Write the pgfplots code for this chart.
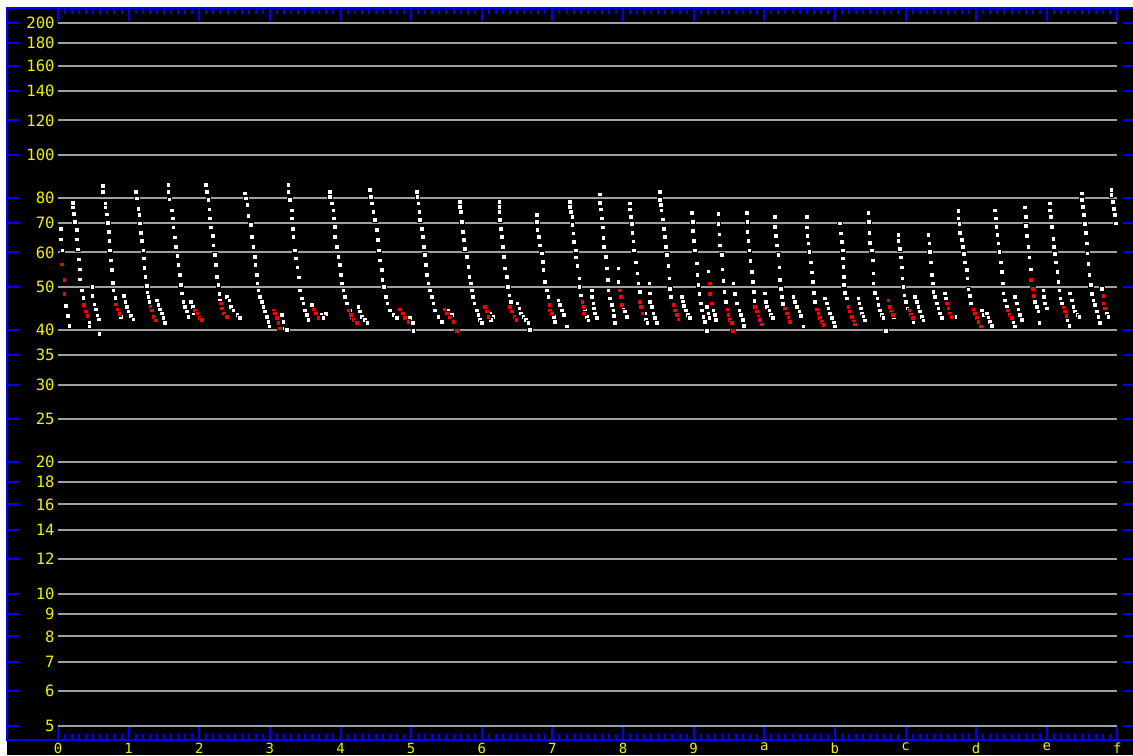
\documentclass[border=0pt]{standalone}
\usepackage{fontspec}
\setmonofont{DejaVu Sans Mono}
\usepackage{pgfplots}
\pgfplotsset{compat=1.18}
\definecolor{bluec}{RGB}{0,0,255}
\definecolor{yellowc}{RGB}{240,240,0}
\definecolor{gridc}{RGB}{160,160,160}
\definecolor{redc}{RGB}{255,0,0}
\begin{document}
\begin{tikzpicture}
\fill[white] (-3.5pt,-7.5pt) rectangle (563pt,370pt);
\fill[black] (0,-7.5pt) rectangle (566pt,366pt);
\begin{axis}[
  at={(0,0)}, anchor=south west,
  scale only axis, width=564.5pt, height=366pt,
  xmin=-0.722, xmax=15.263,
  ymode=log, ymin=4.646, ymax=216.4,
  axis line style={draw=bluec, line width=1pt},
  tick style={draw=bluec, line width=1pt},
  tick align=inside,
  major tick length=6.75pt, minor tick length=3pt,
  xtick={0,1,2,3,4,5,6,7,8,9,10,11,12,13,14,15},
  xticklabels={0,1,2,3,4,5,6,7,8,9,a,b,c,d,e,f},
  minor x tick num=9,
  ytick={5,6,7,8,9,10,12,14,16,18,20,25,30,35,40,50,60,70,80,100,120,140,160,180,200},
  yticklabels={5,6,7,8,9,10,12,14,16,18,20,25,30,35,40,50,60,70,80,100,120,140,160,180,200},
  yminorticks=false,
  yticklabel pos=left,
  /pgf/number format/assume math mode=true,
  tick label style={text=yellowc},
  yticklabel style={anchor=east, inner sep=0pt, xshift=24pt, font=\fontsize{7.8}{8}\selectfont\ttfamily},
  xticklabel style={anchor=north, inner sep=0pt, yshift=-1.3pt, font=\fontsize{7}{7}\selectfont\ttfamily},
]
\pgfplotsinvokeforeach{5,6,7,8,9,10,12,14,16,18,20,25,30,35,40,50,60,70,80,100,120,140,160,180,200}{
  \addplot[gridc, line width=1pt, forget plot] coordinates {(0,#1) (15,#1)};
}
\addplot[only marks, mark=square*, mark size=1.15pt, mark options={draw=none, fill=white}] coordinates {
(0.042,67.9)(0.042,64.2)(0.061,60.7)(0.113,45.3)(0.142,43.0)(0.160,40.8)
(0.208,77.8)(0.208,76.0)(0.227,73.4)(0.241,70.5)(0.264,67.5)(0.264,64.2)(0.283,61.0)(0.293,57.9)(0.311,54.9)(0.311,52.1)(0.340,49.2)(0.359,47.3)(0.444,41.6)(0.444,40.7)
(0.486,50.1)(0.486,47.7)(0.514,45.7)(0.538,44.5)(0.557,43.0)(0.576,42.2)(0.585,39.1)
(0.632,85.0)(0.632,82.5)(0.670,77.6)(0.670,76.0)(0.689,73.2)(0.703,70.1)(0.717,66.9)(0.727,63.8)(0.736,60.7)(0.750,57.6)(0.765,54.7)(0.774,51.2)(0.783,49.2)(0.812,47.3)(0.887,42.8)
(0.934,47.7)(0.953,46.3)(0.972,45.1)(0.996,44.0)(1.029,43.0)(1.067,42.2)
(1.104,82.5)(1.114,79.7)(1.137,75.5)(1.151,73.0)(1.161,69.9)(1.170,66.5)(1.184,63.8)(1.208,60.7)(1.218,58.1)(1.222,55.4)(1.236,52.8)(1.255,50.3)(1.265,48.6)(1.279,47.5)(1.295,46.3)
(1.397,46.7)(1.420,45.5)(1.444,44.5)(1.468,43.6)(1.491,42.5)(1.515,41.5)
(1.562,85.4)(1.562,82.5)(1.576,79.2)(1.609,74.9)(1.623,71.7)(1.633,68.4)(1.656,64.9)(1.671,61.8)(1.689,58.9)(1.704,56.2)(1.727,53.3)(1.741,50.6)(1.751,48.4)(1.774,46.3)(1.798,45.1)(1.822,44.0)(1.845,42.8)
(1.878,46.3)(1.907,45.1)(1.925,43.6)
(2.095,85.4)(2.105,82.5)(2.128,79.0)(2.142,75.2)(2.152,71.7)(2.161,68.4)(2.190,65.4)(2.199,62.3)(2.223,59.2)(2.237,56.2)(2.246,52.8)(2.270,50.6)(2.284,48.2)(2.294,46.7)
(2.388,47.5)(2.426,46.7)(2.445,45.1)(2.483,44.3)(2.539,43.2)(2.577,42.5)
(2.647,81.8)(2.657,79.7)(2.680,76.9)(2.695,72.6)(2.728,69.3)(2.742,65.1)(2.766,61.8)(2.784,58.7)(2.794,56.2)(2.813,53.3)(2.822,51.0)(2.836,49.2)(2.860,47.5)(2.884,46.3)(2.907,45.1)(2.931,44.0)(2.954,42.8)(2.978,41.7)(2.992,40.7)
(3.167,43.2)(3.190,41.7)(3.214,40.3)(3.237,40.0)
(3.261,85.4)(3.261,82.5)(3.285,79.0)(3.308,74.9)(3.308,71.7)(3.322,68.0)(3.332,65.1)(3.355,60.7)(3.369,58.1)(3.388,55.5)(3.412,52.6)(3.426,49.2)(3.450,47.1)(3.473,45.9)(3.497,44.3)(3.520,43.2)(3.544,42.1)
(3.591,45.5)(3.733,43.2)(3.795,43.4)(3.757,42.5)
(3.851,82.5)(3.851,80.4)(3.874,77.6)(3.898,74.9)(3.907,71.7)(3.922,68.7)(3.922,65.1)(3.945,61.8)(3.969,58.7)(3.993,56.2)(4.002,53.3)(4.016,51.0)(4.040,49.2)(4.064,47.5)(4.087,45.9)(4.135,44.3)(4.158,42.8)(4.253,45.1)(4.276,44.0)(4.300,42.8)(4.347,42.1)(4.380,41.4)
(4.417,83.2)(4.427,80.4)(4.441,77.6)(4.464,74.3)(4.488,71.1)(4.512,67.5)(4.526,64.0)(4.545,60.7)(4.559,57.6)(4.583,54.7)(4.592,51.9)(4.616,50.1)(4.644,47.5)(4.663,45.9)(4.701,44.3)(4.748,43.2)(4.795,42.5)(4.984,42.5)(5.021,41.4)(5.031,39.7)
(5.078,82.5)(5.087,80.4)(5.102,77.6)(5.116,74.3)(5.125,71.1)(5.149,68.0)(5.163,65.1)(5.182,61.8)(5.196,59.2)(5.210,56.2)(5.220,53.3)(5.243,51.0)(5.267,49.2)(5.290,47.5)(5.314,45.9)(5.338,44.3)(5.385,42.8)(5.432,41.7)(5.526,44.3)(5.574,43.2)
(5.691,78.3)(5.691,76.2)(5.701,74.3)(5.715,70.5)(5.729,66.9)(5.748,64.0)(5.762,61.2)(5.786,58.7)(5.809,55.7)(5.823,52.8)(5.842,51.0)(5.857,49.2)(5.871,47.5)(5.894,45.9)(5.927,44.3)(5.951,43.2)(5.974,42.1)(5.998,41.4)(6.116,43.6)(6.163,42.8)(6.126,42.1)
(6.248,78.3)(6.248,76.2)(6.248,74.3)(6.257,71.1)(6.267,68.0)(6.281,65.1)(6.295,61.8)(6.314,58.7)(6.328,55.2)(6.352,52.8)(6.366,50.1)(6.390,47.9)(6.413,46.3)(6.503,45.9)(6.531,44.7)(6.550,43.6)(6.588,42.8)(6.626,42.1)(6.659,41.4)(6.682,40.0)
(6.777,73.0)(6.777,70.5)(6.786,67.5)(6.805,65.1)(6.824,62.3)(6.848,59.7)(6.862,57.1)(6.871,54.7)(6.895,51.4)(6.919,49.2)(6.942,47.5)(7.022,42.8)(7.036,41.7)(7.084,46.7)(7.107,45.5)(7.131,44.3)(7.164,43.2)(7.202,40.7)
(7.249,78.3)(7.249,76.2)(7.263,74.3)(7.282,72.4)(7.282,69.3)(7.296,66.3)(7.306,63.4)(7.329,60.7)(7.334,58.5)(7.353,55.9)(7.381,52.4)(7.381,50.1)(7.400,47.9)(7.461,44.3)(7.485,42.8)(7.508,42.0)(7.556,49.2)(7.556,47.5)(7.580,45.9)(7.589,44.7)(7.603,43.6)(7.627,42.5)
(7.673,81.4)(7.673,77.8)(7.683,75.2)(7.702,71.7)(7.711,68.4)(7.720,64.7)(7.730,61.8)(7.758,58.7)(7.768,55.2)(7.782,51.9)(7.791,49.2)(7.815,47.1)(7.839,45.5)(7.862,44.3)(7.872,43.0)(7.886,41.4)(7.933,55.2)(7.933,51.4)(8.004,45.1)(8.027,44.0)(8.051,42.8)
(8.098,77.6)(8.098,75.2)(8.108,72.4)(8.122,69.6)(8.131,66.5)(8.145,63.6)(8.155,60.7)(8.183,56.9)(8.202,53.8)(8.216,51.0)(8.240,48.8)(8.310,43.6)(8.325,42.2)(8.343,41.4)(8.372,51.0)(8.381,48.4)(8.381,46.3)(8.405,45.1)(8.428,43.6)(8.452,42.5)(8.476,41.4)
(8.523,82.5)(8.523,79.0)(8.537,76.9)(8.546,74.9)(8.561,71.3)(8.580,68.0)(8.594,65.1)(8.608,61.8)(8.617,59.2)(8.641,55.9)(8.655,52.4)(8.665,49.6)(8.679,47.5)(8.830,47.5)(8.844,46.3)(8.863,45.3)(8.891,44.3)(8.915,43.2)(8.948,42.5)
(8.971,73.9)(8.985,70.5)(8.985,67.2)(9.004,63.8)(9.018,60.7)(9.042,56.7)(9.052,53.3)(9.066,50.6)(9.080,48.2)(9.099,45.9)(9.113,44.3)(9.137,42.8)(9.160,41.7)(9.207,54.3)(9.184,39.7)(9.184,45.1)(9.207,43.6)(9.222,42.5)(9.278,44.3)(9.302,43.2)(9.316,42.1)
(9.349,73.4)(9.349,69.6)(9.363,66.0)(9.373,62.3)(9.396,59.2)(9.406,54.9)(9.420,51.7)(9.434,48.8)(9.453,46.3)(9.561,51.0)(9.585,48.2)(9.608,45.9)(9.646,44.3)(9.665,43.2)(9.694,42.1)(9.712,40.8)
(9.750,73.9)(9.759,70.5)(9.759,66.9)(9.773,63.8)(9.788,60.7)(9.806,57.4)(9.821,54.2)(9.835,51.4)(9.854,48.8)(9.862,46.5)(10.010,48.4)(10.024,46.3)(10.033,45.1)(10.071,44.3)(10.090,43.2)(10.118,42.5)
(10.151,72.4)(10.151,68.7)(10.165,65.4)(10.175,62.3)(10.198,59.2)(10.213,55.5)(10.222,51.9)(10.236,49.6)(10.246,47.5)(10.260,45.8)(10.411,47.5)(10.435,46.3)(10.458,45.1)(10.496,44.0)(10.515,43.0)(10.552,40.7)
(10.599,72.4)(10.599,68.4)(10.609,65.4)(10.623,62.9)(10.637,60.2)(10.656,56.9)(10.670,54.0)(10.684,51.4)(10.703,48.6)(10.717,46.3)(10.859,47.1)(10.883,45.9)(10.906,44.7)(10.930,43.6)(10.954,42.5)(10.987,41.4)(11.001,40.7)
(11.071,69.9)(11.085,66.3)(11.095,63.4)(11.109,60.7)(11.109,58.1)(11.119,55.7)(11.128,52.8)(11.128,50.6)(11.142,48.6)(11.166,47.1)(11.331,47.1)(11.345,45.9)(11.364,44.7)(11.378,43.6)(11.402,42.8)(11.426,42.0)
(11.472,73.9)(11.482,70.5)(11.487,66.5)(11.496,63.1)(11.520,60.7)(11.534,57.6)(11.543,53.8)(11.543,51.0)(11.567,48.6)(11.600,47.1)(11.614,45.5)(11.638,44.3)(11.661,43.2)(11.685,42.5)(11.723,39.7)(11.836,42.8)
(11.897,65.7)(11.897,63.8)(11.921,61.1)(11.930,58.5)(11.944,55.5)(11.954,52.4)(11.968,50.1)(11.982,47.9)(12.001,46.3)(12.025,44.7)(12.109,41.7)(12.133,47.5)(12.157,46.3)(12.180,45.1)(12.204,44.0)(12.228,42.8)(12.251,42.0)
(12.322,65.7)(12.336,62.9)(12.345,60.2)(12.355,56.9)(12.369,53.3)(12.383,51.0)(12.393,48.8)(12.416,47.5)(12.440,45.9)(12.464,44.7)(12.487,43.6)(12.511,42.5)(12.558,48.4)(12.572,47.1)(12.700,42.8)
(12.747,74.6)(12.747,71.7)(12.761,69.6)(12.771,66.5)(12.794,64.0)(12.808,61.8)(12.827,59.5)(12.841,56.9)(12.865,54.7)(12.874,52.4)(12.889,49.4)(12.912,47.7)(12.926,45.9)(13.077,44.3)(13.101,43.2)(13.148,43.6)(13.172,42.5)(13.195,41.7)(13.219,40.8)
(13.266,74.9)(13.275,71.7)(13.289,68.7)(13.299,65.7)(13.313,62.9)(13.327,60.2)(13.346,56.9)(13.360,54.2)(13.374,51.0)(13.384,48.4)(13.408,46.7)(13.431,45.1)(13.526,41.4)(13.549,40.7)(13.549,47.5)(13.573,45.9)(13.597,44.5)(13.620,43.2)(13.644,42.1)
(13.690,76.0)(13.700,72.4)(13.705,69.0)(13.714,65.4)(13.738,61.8)(13.752,58.5)(13.771,54.9)(13.832,46.3)(13.856,45.1)(13.880,44.0)(13.894,41.4)(13.950,49.2)(13.960,47.5)(13.974,45.9)(13.998,44.7)
(14.044,77.6)(14.044,74.9)(14.054,72.4)(14.068,68.7)(14.092,64.5)(14.101,61.8)(14.115,59.5)(14.129,56.9)(14.148,54.2)(14.162,51.4)(14.176,49.2)(14.195,47.1)(14.215,45.9)(14.294,42.1)(14.318,40.8)(14.328,48.4)(14.351,46.7)(14.375,45.1)(14.398,44.0)(14.431,43.2)(14.460,42.8)
(14.493,81.8)(14.493,79.0)(14.507,76.2)(14.526,73.0)(14.540,69.6)(14.554,66.5)(14.564,62.9)(14.573,59.7)(14.587,56.5)(14.602,53.3)(14.620,50.6)(14.635,48.2)(14.658,46.7)(14.682,45.5)(14.705,44.0)(14.729,42.8)(14.753,41.5)(14.776,49.6)(14.847,43.6)(14.870,42.8)
(14.917,83.4)(14.917,81.1)(14.932,78.3)(14.951,75.5)(14.965,73.0)(14.979,69.9)
};
\addplot[only marks, mark=square*, mark size=1.15pt, mark options={draw=none, fill=redc}] coordinates {
(0.057,56.4)(0.090,51.9)(0.090,48.2)
(0.368,45.5)(0.396,44.0)(0.415,43.0)
(0.821,45.7)(0.840,44.5)(0.868,43.4)
(1.308,45.2)(1.326,44.3)(1.350,42.8)(1.387,42.0)
(1.940,44.3)(1.973,43.6)(2.010,42.5)(2.034,42.1)
(2.303,45.9)(2.317,44.7)(2.350,43.6)(2.388,42.8)
(3.049,44.3)(3.072,43.6)(3.096,42.5)(3.119,41.4)(3.143,40.3)
(3.615,44.5)(3.653,43.6)(3.686,42.5)
(4.111,44.3)(4.144,43.2)(4.182,42.1)(4.229,41.4)
(4.843,44.5)(4.880,43.6)(4.913,42.5)(4.960,41.7)
(5.470,44.5)(5.503,43.6)(5.550,42.7)(5.597,41.7)(5.644,39.7)
(6.045,45.1)(6.069,44.0)(6.093,42.8)
(6.399,45.1)(6.423,44.0)(6.460,42.8)(6.493,42.1)
(6.956,45.5)(6.966,44.3)(6.989,43.6)
(7.424,46.3)(7.438,45.1)(7.447,43.6)
(7.957,49.2)(7.971,47.5)(7.980,45.5)
(8.240,46.3)(8.254,45.1)(8.277,43.6)
(8.712,45.5)(8.735,44.3)(8.759,43.2)(8.783,42.2)
(9.231,51.0)(9.231,48.2)(9.254,45.9)
(9.476,44.5)(9.491,43.2)(9.514,42.1)(9.538,41.4)(9.552,39.7)
(9.868,45.1)(9.892,44.0)(9.915,42.8)(9.939,42.1)(9.962,41.1)
(10.293,44.7)(10.317,43.6)(10.340,42.5)(10.364,41.7)
(10.741,44.5)(10.765,43.6)(10.788,42.5)(10.812,41.7)(10.836,41.0)
(11.189,45.1)(11.213,44.0)(11.237,42.8)(11.270,41.7)(11.284,41.1)
(11.756,46.7)(11.770,45.1)(11.789,44.0)(11.817,43.2)
(12.053,44.3)(12.072,43.2)(12.100,42.5)
(12.582,45.9)(12.605,44.7)(12.629,43.6)(12.653,42.8)
(12.959,44.5)(12.983,43.4)(13.007,42.5)(13.030,41.7)(13.063,40.7)
(13.445,44.3)(13.469,43.2)(13.502,42.5)
(13.771,51.9)(13.799,49.6)(13.818,47.7)
(14.233,44.9)(14.257,44.0)(14.280,43.0)
(14.800,47.7)(14.800,45.9)(14.823,44.7)
};
\end{axis}
\pgfresetboundingbox
\path[use as bounding box] (-3.5pt,-7.5pt) rectangle (563pt,370pt);
\end{tikzpicture}
\end{document}
